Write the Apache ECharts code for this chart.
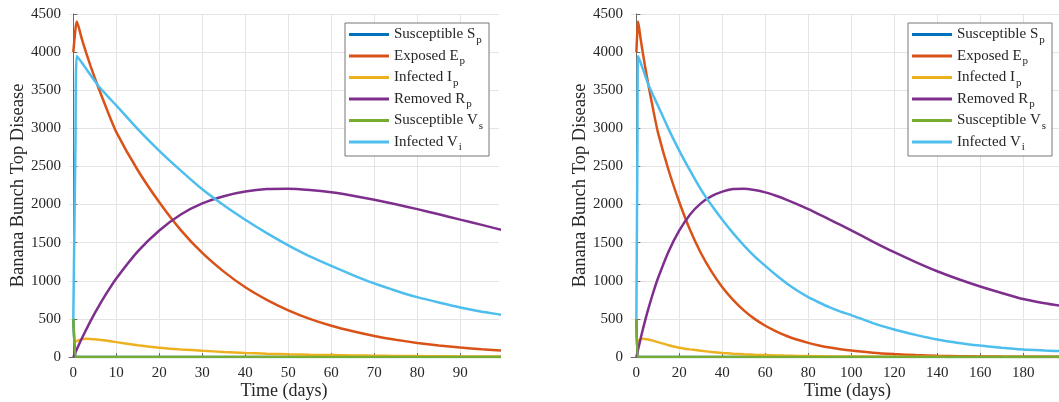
<!DOCTYPE html>
<html>
<head>
<meta charset="utf-8">
<script src="https://cdn.jsdelivr.net/npm/echarts@6/dist/echarts.min.js"></script>
<style>
html,body{margin:0;padding:0;background:#fff;}
#chart{width:1059px;height:402px;}
</style>
</head>
<body>
<div id="chart"></div>
<script>
// ---- data ----
const time = [0, 0.5, 0.8, 2, 3, 4, 5, 6, 8, 10, 15, 20, 25, 30, 35, 40, 45, 50, 55, 60, 65, 70, 75, 80, 85, 90, 95, 100, 110, 120, 130, 140, 150, 160, 170, 180, 190, 200];
const susceptibleSp = [500, 0, 0, 0, 0, 0, 0, 0, 0, 0, 0, 0, 0, 0, 0, 0, 0, 0, 0, 0, 0, 0, 0, 0, 0, 0, 0, 0, 0, 0, 0, 0, 0, 0, 0, 0, 0, 0];
const exposedEp = [4000, 4300, 4400, 4170, 3990, 3820, 3660, 3510, 3220, 2950, 2450, 2030, 1665, 1365, 1120, 915, 750, 612, 500, 410, 337, 276, 226, 185, 152, 124, 102, 84, 56, 38, 25, 17, 11, 8, 5, 3, 2, 2];
const infectedIp = [185, 200, 210, 232, 238, 236, 232, 226, 212, 195, 155, 122, 100, 82, 66, 54, 44, 36, 30, 25, 20, 17, 14, 12, 10, 8, 7, 6, 4, 3, 2, 2, 1, 1, 1, 1, 1, 1];
const removedRp = [0, 60, 100, 245, 360, 470, 575, 675, 860, 1030, 1385, 1660, 1870, 2015, 2110, 2170, 2203, 2207, 2190, 2160, 2115, 2062, 2003, 1940, 1872, 1802, 1733, 1662, 1515, 1375, 1245, 1125, 1020, 925, 840, 760, 705, 660];
const susceptibleVs = [500, 0, 0, 0, 0, 0, 0, 0, 0, 0, 0, 0, 0, 0, 0, 0, 0, 0, 0, 0, 0, 0, 0, 0, 0, 0, 0, 0, 0, 0, 0, 0, 0, 0, 0, 0, 0, 0];
const infectedVi = [500, 2800, 3950, 3860, 3780, 3700, 3620, 3545, 3420, 3300, 2990, 2705, 2445, 2200, 1990, 1800, 1625, 1465, 1320, 1195, 1075, 965, 870, 785, 715, 650, 595, 550, 445, 360, 290, 230, 185, 150, 120, 97, 85, 74];

const seriesNames = ['Susceptible Sp', 'Exposed Ep', 'Infected Ip', 'Removed Rp', 'Susceptible Vs', 'Infected Vi'];
const legendBase = ['Susceptible S', 'Exposed E', 'Infected I', 'Removed R', 'Susceptible V', 'Infected V'];
const legendSub = ['p', 'p', 'p', 'p', 's', 'i'];
const seriesValues = [susceptibleSp, exposedEp, infectedIp, removedRp, susceptibleVs, infectedVi];
const colors = ['#0072BD', '#D95319', '#EDB120', '#7E2F8E', '#77AC30', '#4DBEEE'];

const leftTicks = [0, 10, 20, 30, 40, 50, 60, 70, 80, 90];
const rightTicks = [0, 20, 40, 60, 80, 100, 120, 140, 160, 180];

const FONT = 'Liberation Serif';

function pairs(vals) { return time.map((t, i) => [t, vals[i]]); }

const chart = echarts.init(document.getElementById('chart'), null, {renderer: 'canvas'});

function xAxisDef(gridIndex, min, max, ticks) {
  return {
    type: 'value', gridIndex, min, max,
    name: 'Time (days)', nameLocation: 'middle', nameGap: 25, nameMoveOverlap: false,
    nameTextStyle: {fontFamily: FONT, fontSize: 18, color: '#262626'},
    axisLine: {show: true, onZero: false, lineStyle: {color: '#6a6a6a', width: 1}},
    axisTick: {show: true, inside: true, length: 4, customValues: ticks, lineStyle: {color: '#6a6a6a'}},
    axisLabel: {customValues: ticks, fontFamily: FONT, fontSize: 15, color: '#262626', margin: 9},
    splitLine: {show: true, customValues: ticks, lineStyle: {color: '#e4e4e4', width: 1}}
  };
}
function yAxisDef(gridIndex) {
  return {
    type: 'value', gridIndex, min: 0, max: 4500, interval: 500,
    name: 'Banana Bunch Top Disease', nameLocation: 'middle', nameGap: 41, nameMoveOverlap: false,
    nameTextStyle: {fontFamily: FONT, fontSize: 18.5, color: '#262626'},
    axisLine: {show: true, lineStyle: {color: '#6a6a6a', width: 1}},
    axisTick: {show: true, inside: true, length: 4, lineStyle: {color: '#6a6a6a'}},
    axisLabel: {fontFamily: FONT, fontSize: 15, color: '#262626', margin: 8, formatter: v => String(v)},
    splitLine: {show: true, lineStyle: {color: '#e4e4e4', width: 1}}
  };
}

const series = [];
[0, 1].forEach(g => {
  seriesNames.forEach((n, i) => {
    series.push({
      name: n, type: 'line', xAxisIndex: g, yAxisIndex: g,
      data: pairs(seriesValues[i]), showSymbol: false, symbol: 'none',
      smooth: 0.2, clip: true,
      lineStyle: {color: colors[i], width: 2.5},
      itemStyle: {color: colors[i]},
      z: 2 + i
    });
  });
});

function legendDef(left) {
  return {
    orient: 'vertical', left, top: 23,
    data: seriesNames,
    icon: 'rect', itemWidth: 40, itemHeight: 3, itemGap: 3, itemTextGap: 4,
    padding: [4, 6, 3, 4],
    backgroundColor: '#fff', borderColor: '#777', borderWidth: 1, borderRadius: 0,
    selectedMode: false,
    formatter: name => {
      const k = seriesNames.indexOf(name);
      return legendBase[k] + '{sub|' + legendSub[k] + '}';
    },
    textStyle: {
      fontFamily: FONT, fontSize: 15, color: '#262626',
      rich: {sub: {fontFamily: FONT, fontSize: 11, color: '#262626', verticalAlign: 'bottom', padding: [11, 0, 0, 1]}}
    }
  };
}

chart.setOption({
  animation: false,
  backgroundColor: '#fff',
  grid: [
    {left: 69, top: 14, width: 430, height: 343, containLabel: false, outerBoundsMode: 'none'},
    {left: 631, top: 14, width: 433, height: 343, containLabel: false, outerBoundsMode: 'none'}
  ],
  xAxis: [xAxisDef(0, -1, 99, leftTicks), xAxisDef(1, -2.5, 199, rightTicks)],
  yAxis: [yAxisDef(0), yAxisDef(1)],
  legend: [legendDef(345), legendDef(908)],
  series
});
</script>
</body>
</html>
